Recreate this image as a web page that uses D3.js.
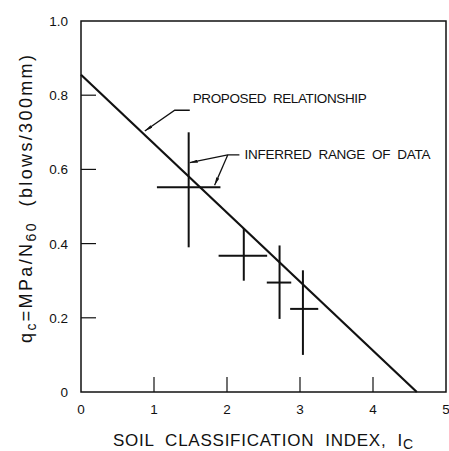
<!DOCTYPE html>
<html>
<head>
<meta charset="utf-8">
<script src="https://cdn.jsdelivr.net/npm/d3@7"></script>
<style>
  body { margin: 0; background: #fff; }
  svg text { font-family: Arial, "Liberation Sans", Helvetica, sans-serif; fill: #111; white-space: pre; }
</style>
</head>
<body>
<div id="graph"></div>
<script>
// proposed relationship line (Ic, q)
var lineIc = [0, 4.6];
var lineQ = [0.855, 0];

// inferred data ranges: centre and extent of each cross
var crossIc = [1.475, 2.23, 2.72, 3.04];
var crossQ = [0.552, 0.367, 0.295, 0.224];
var icLo = [1.04, 1.885, 2.545, 2.865];
var icHi = [1.91, 2.55, 2.88, 3.25];
var qLo = [0.39, 0.30, 0.197, 0.10];
var qHi = [0.70, 0.44, 0.395, 0.328];

var xTicks = [0, 1, 2, 3, 4, 5];
var yTicks = [0, 0.2, 0.4, 0.6, 0.8, 1.0];
var yTickLabels = ["0", "0.2", "0.4", "0.6", "0.8", "1.0"];

var W = 449, H = 451;
var m = { left: 81, right: 3, top: 21, bottom: 59 };

var svg = d3.select("#graph").append("svg").attr("width", W).attr("height", H);

var x = d3.scaleLinear().domain([0, 5]).range([m.left, W - m.right]);
var y = d3.scaleLinear().domain([0, 1]).range([H - m.bottom, m.top]);

// frame
svg.append("rect")
  .attr("x", x(0)).attr("y", y(1))
  .attr("width", x(5) - x(0)).attr("height", y(0) - y(1))
  .attr("fill", "none").attr("stroke", "#111").attr("stroke-width", 1.5);

// inward ticks
svg.selectAll("line.xt").data(xTicks.slice(1, 5)).enter().append("line")
  .attr("x1", d => x(d)).attr("x2", d => x(d))
  .attr("y1", y(0)).attr("y2", y(0) - 15)
  .attr("stroke", "#111").attr("stroke-width", 1.2);
svg.selectAll("line.yt").data(yTicks.slice(1, 5)).enter().append("line")
  .attr("x1", x(0)).attr("x2", x(0) + 15)
  .attr("y1", d => y(d)).attr("y2", d => y(d))
  .attr("stroke", "#111").attr("stroke-width", 1.2);

// tick labels
svg.selectAll("text.xl").data(xTicks).enter().append("text")
  .attr("x", d => x(d)).attr("y", y(0) + 22)
  .attr("text-anchor", "middle").attr("font-size", 13.5)
  .text(d => d);
svg.selectAll("text.yl").data(yTicks).enter().append("text")
  .attr("x", x(0) - 13).attr("y", d => y(d) + 5)
  .attr("text-anchor", "end").attr("font-size", 13.5)
  .text((d, i) => yTickLabels[i]);

// axis titles
var xt = svg.append("text")
  .attr("x", 113).attr("y", 446)
  .attr("font-size", 17)
  .attr("textLength", 300).attr("lengthAdjust", "spacing");
xt.append("tspan").text("SOIL  CLASSIFICATION  INDEX,  I");
xt.append("tspan").attr("dy", 3).attr("font-size", 14).text("C");

var yt = svg.append("text")
  .attr("transform", "translate(32,199) rotate(-90)")
  .attr("text-anchor", "middle").attr("font-size", 18)
  .attr("textLength", 288).attr("lengthAdjust", "spacing");
yt.append("tspan").text("q");
yt.append("tspan").attr("dy", 4).attr("font-size", 14).text("c");
yt.append("tspan").attr("dy", -4).text("=MPa/N");
yt.append("tspan").attr("dy", 4).attr("font-size", 14).text("60");
yt.append("tspan").attr("dy", -4).text("  (blows/300mm)");

// relationship line
var line = d3.line().x(d => x(d[0])).y(d => y(d[1]));
svg.append("path")
  .attr("d", line(d3.zip(lineIc, lineQ)))
  .attr("fill", "none").attr("stroke", "#111").attr("stroke-width", 2.2);

// crosses
var crosses = svg.selectAll("g.cross").data(crossIc).enter().append("g");
crosses.append("line")
  .attr("x1", d => x(d)).attr("x2", d => x(d))
  .attr("y1", (d, i) => y(qLo[i])).attr("y2", (d, i) => y(qHi[i]))
  .attr("stroke", "#111").attr("stroke-width", 2);
crosses.append("line")
  .attr("x1", (d, i) => x(icLo[i])).attr("x2", (d, i) => x(icHi[i]))
  .attr("y1", (d, i) => y(crossQ[i])).attr("y2", (d, i) => y(crossQ[i]))
  .attr("stroke", "#111").attr("stroke-width", 2);

// annotations
svg.append("defs").append("marker")
  .attr("id", "arr").attr("viewBox", "0 0 10 4")
  .attr("refX", 10).attr("refY", 2)
  .attr("markerWidth", 8).attr("markerHeight", 3.5)
  .attr("markerUnits", "userSpaceOnUse").attr("orient", "auto")
  .append("path").attr("d", "M0,0L10,2L0,4Z").attr("fill", "#111");

function leader(pts) {
  svg.append("path")
    .attr("d", line(pts))
    .attr("fill", "none").attr("stroke", "#111").attr("stroke-width", 1.3)
    .attr("marker-end", "url(#arr)");
}
leader([[1.49, 0.7595], [1.284, 0.7595], [0.874, 0.7035]]);
leader([[2.17, 0.639], [2.01, 0.639], [1.49, 0.618]]);
leader([[2.01, 0.639], [1.83, 0.557]]);

svg.append("text")
  .attr("x", x(1.53)).attr("y", y(0.778))
  .attr("font-size", 13.5).attr("textLength", 174).attr("lengthAdjust", "spacing")
  .text("PROPOSED  RELATIONSHIP");
svg.append("text")
  .attr("x", x(2.24)).attr("y", y(0.627))
  .attr("font-size", 13.5).attr("textLength", 186).attr("lengthAdjust", "spacing")
  .text("INFERRED  RANGE  OF  DATA");
</script>
</body>
</html>
